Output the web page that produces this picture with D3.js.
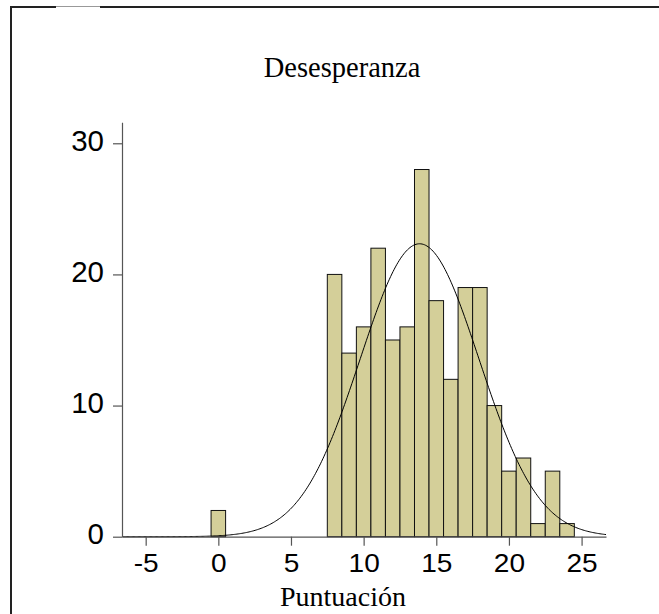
<!DOCTYPE html>
<html>
<head>
<meta charset="utf-8">
<script src="https://cdn.jsdelivr.net/npm/d3@7"></script>
<style>
  html, body { margin: 0; padding: 0; background: #fff; }
  svg { display: block; }
</style>
</head>
<body>
<script>
// ---- data ----
const binCenters = [0, 8, 9, 10, 11, 12, 13, 14, 15, 16, 17, 18, 19, 20, 21, 22, 23, 24];
const binCounts  = [2, 20, 14, 16, 22, 15, 16, 28, 18, 12, 19, 19, 10, 5, 6, 1, 5, 1];
const binWidth = 1;
const xTicks = [-5, 0, 5, 10, 15, 20, 25];
const yTicks = [0, 10, 20, 30];
const curveMean = 13.85;
const curveSd = 4.09;
const titleText = "Desesperanza";
const xLabel = "Puntuación";

const W = 659, H = 614;
const svg = d3.select("body").append("svg").attr("width", W).attr("height", H);

// frame
svg.append("line").attr("x1", 10).attr("x2", 56).attr("y1", 7).attr("y2", 7)
  .attr("stroke", "#222").attr("stroke-width", 2);
svg.append("line").attr("x1", 56).attr("x2", 100).attr("y1", 6.5).attr("y2", 6.5)
  .attr("stroke", "#999").attr("stroke-width", 1);
svg.append("line").attr("x1", 100).attr("x2", W).attr("y1", 7).attr("y2", 7)
  .attr("stroke", "#222").attr("stroke-width", 2);
svg.append("line").attr("x1", 11).attr("x2", 11).attr("y1", 6).attr("y2", H)
  .attr("stroke", "#222").attr("stroke-width", 2);

const x = d3.scaleLinear().domain([-6.63, 26.68]).range([122, 606]);
const y = d3.scaleLinear().domain([0, 31.6]).range([536.7, 122.3]);

// bars
const bins = binCenters.map((c, i) => ({ c, n: binCounts[i] }));
svg.append("g").selectAll("rect").data(bins).join("rect")
  .attr("x", d => x(d.c - binWidth / 2))
  .attr("width", d => x(d.c + binWidth / 2) - x(d.c - binWidth / 2))
  .attr("y", d => y(d.n))
  .attr("height", d => y(0) - y(d.n))
  .attr("fill", "#d4cf99")
  .attr("stroke", "#111")
  .attr("stroke-width", 1);

// normal curve
const total = d3.sum(binCounts);
const xs = d3.range(0, 401).map(i => x.domain()[0] + (x.domain()[1] - x.domain()[0]) * i / 400);
const dens = v => total * binWidth / (curveSd * Math.sqrt(2 * Math.PI)) *
  Math.exp(-0.5 * Math.pow((v - curveMean) / curveSd, 2));
svg.append("path")
  .datum(xs)
  .attr("d", d3.line().x(v => x(v)).y(v => y(dens(v))))
  .attr("fill", "none").attr("stroke", "#000").attr("stroke-width", 1);

// axes
const fmt = d => String(d);
const yAxis = svg.append("g").attr("transform", `translate(${x.range()[0]},0)`)
  .call(d3.axisLeft(y).tickValues(yTicks).tickFormat(fmt).tickSize(9).tickSizeOuter(0).tickPadding(9));
const xAxis = svg.append("g").attr("transform", `translate(0,${y(0)})`)
  .call(d3.axisBottom(x).tickValues(xTicks).tickFormat(fmt).tickSize(9).tickSizeOuter(0).tickPadding(8));

[yAxis, xAxis].forEach(g => {
  g.selectAll("path.domain").attr("stroke", "#555").attr("stroke-width", 1.2);
  g.selectAll(".tick line").attr("stroke", "#555").attr("stroke-width", 1.2);
  g.selectAll(".tick text").attr("fill", "#000")
    .style("font-family", "'Liberation Sans', Arial, sans-serif");
});
yAxis.selectAll(".tick text").style("font-size", "29.5px").attr("dy", "0.23em");
xAxis.selectAll(".tick text").style("font-size", "25.5px").attr("dy", "0.72em")
  .attr("transform", "scale(1.1,1)");

// title and axis label
svg.append("text").attr("x", 342).attr("y", 77).attr("text-anchor", "middle")
  .style("font-family", "'Liberation Serif', 'Times New Roman', serif")
  .style("font-size", "28.5px").text(titleText);
svg.append("text").attr("x", 343).attr("y", 606).attr("text-anchor", "middle")
  .style("font-family", "'Liberation Serif', 'Times New Roman', serif")
  .style("font-size", "28px").text(xLabel);
</script>
</body>
</html>
